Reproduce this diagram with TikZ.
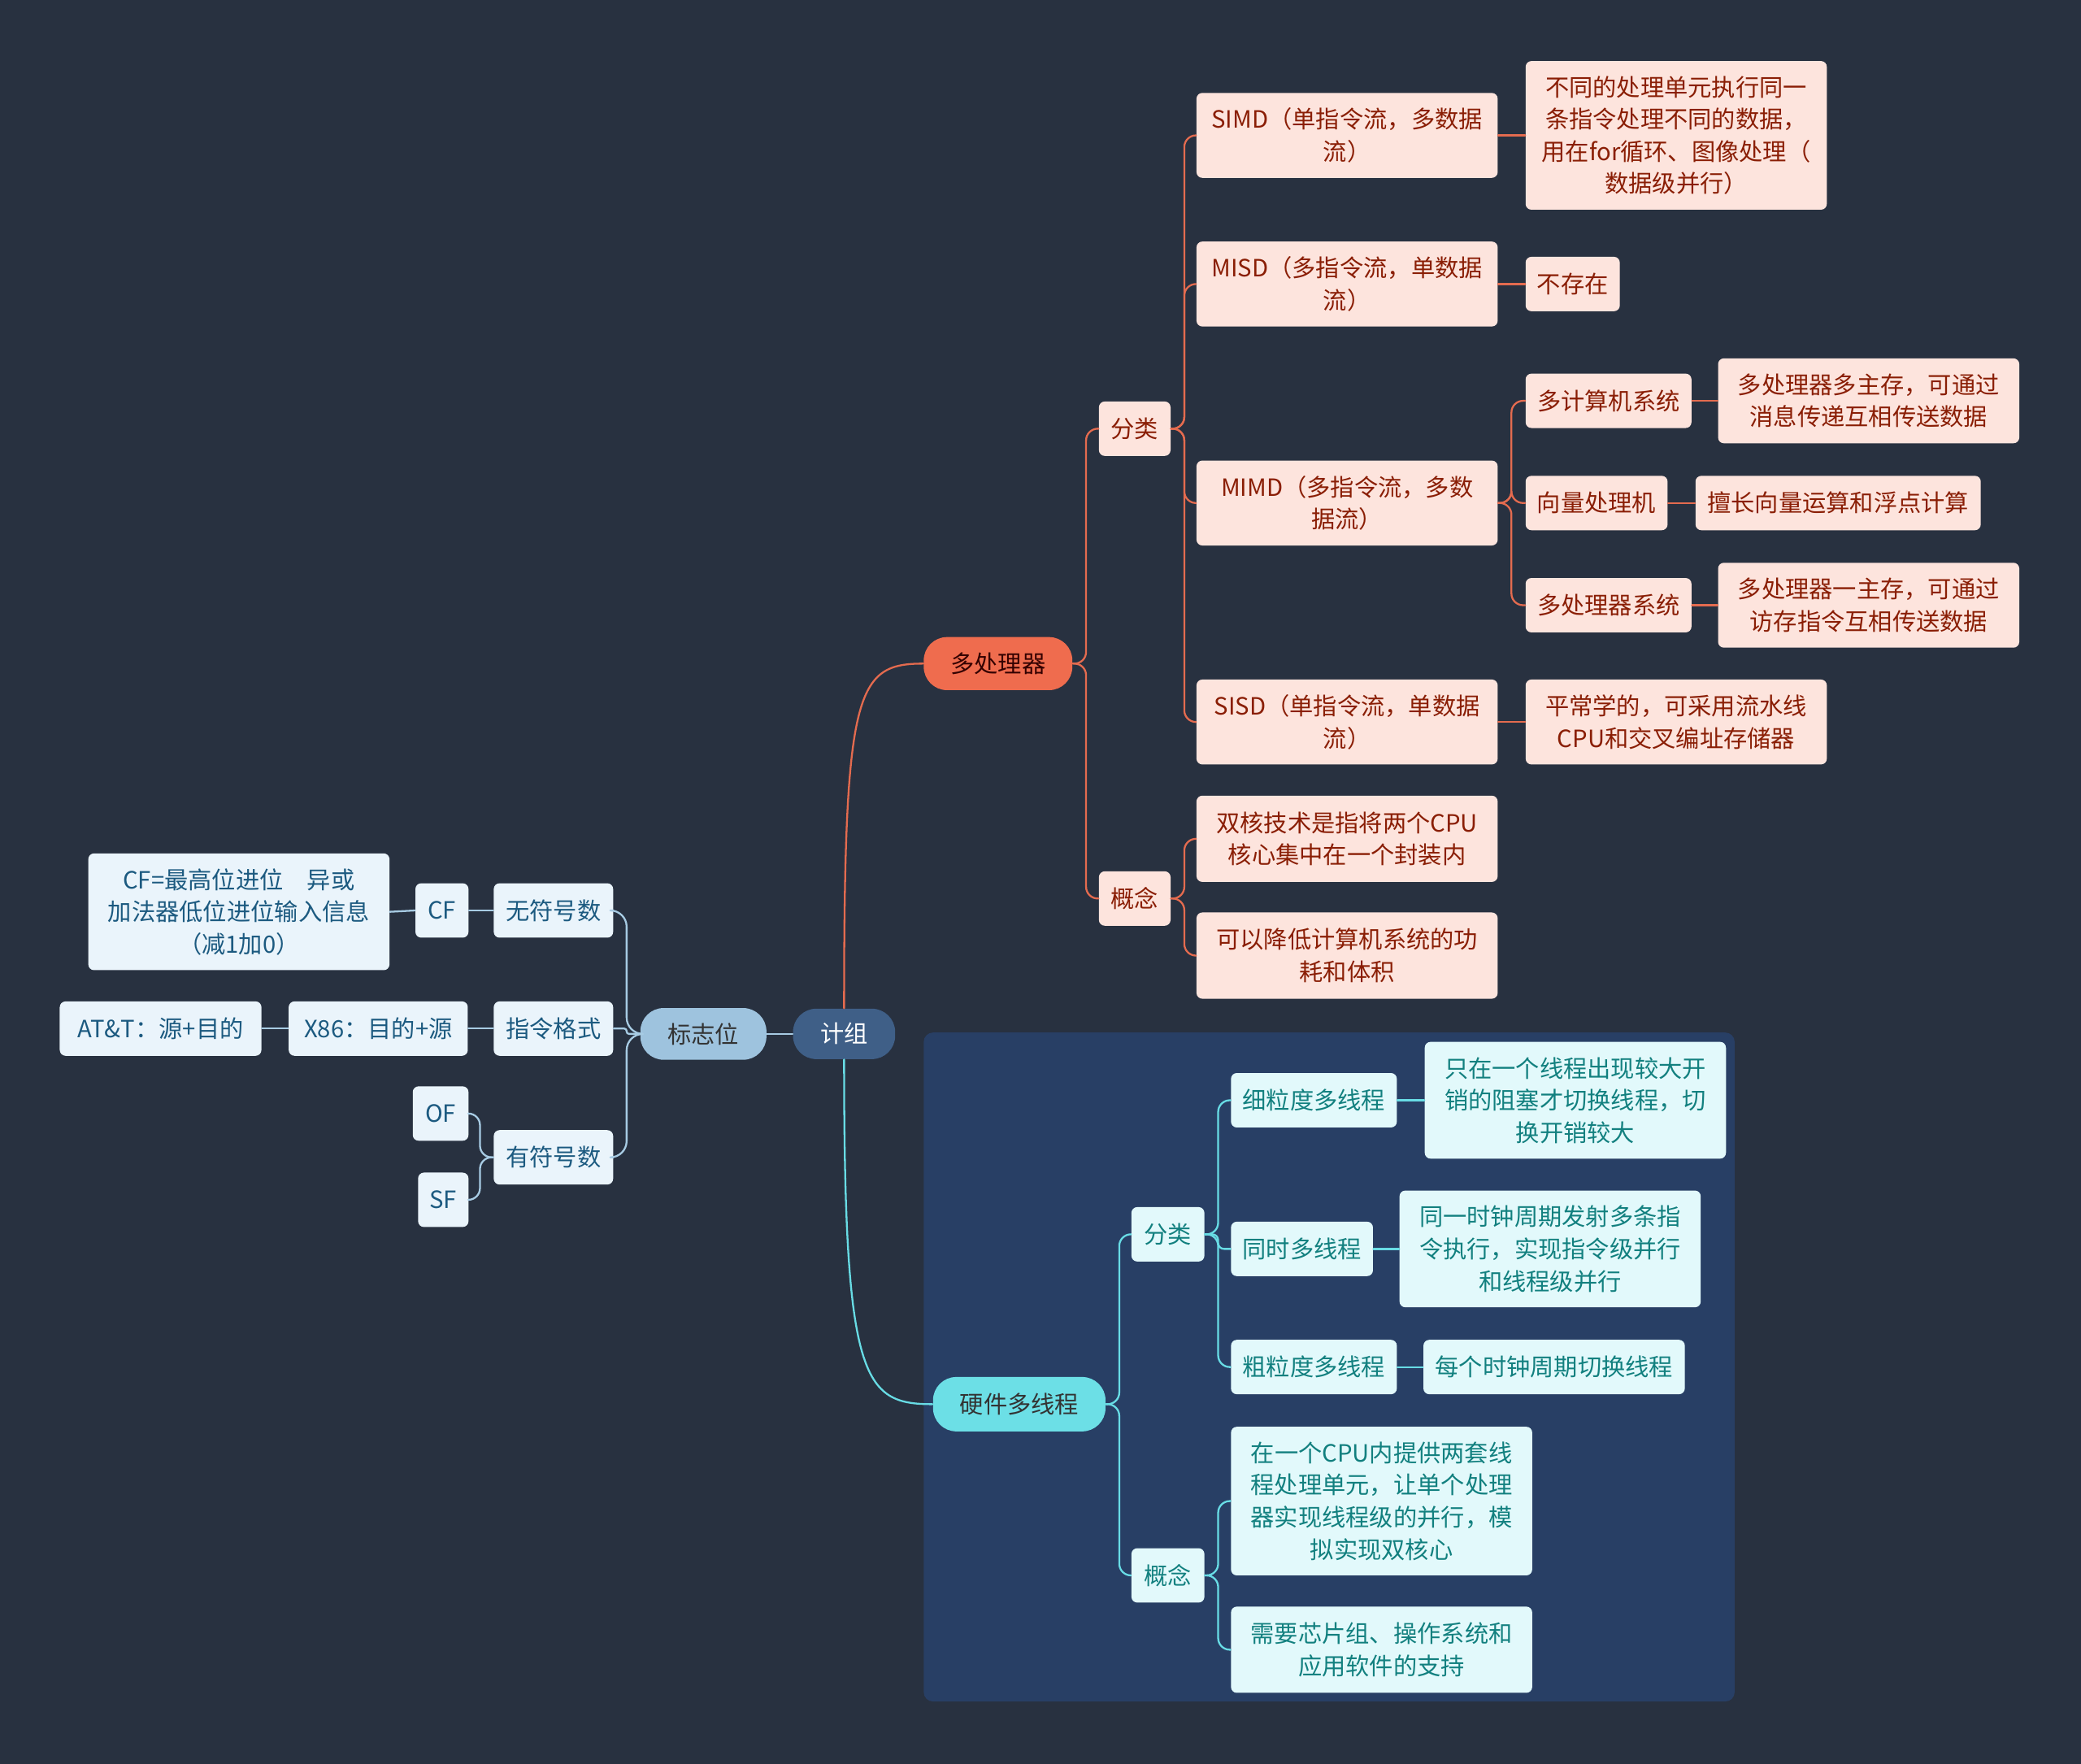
\documentclass[tikz,border=0pt]{standalone}
\usepackage{fontspec}
\setmainfont{Noto Sans CJK SC}
\definecolor{bgcol}{HTML}{283140}
\definecolor{grpcol}{HTML}{283F65}
\definecolor{rootcol}{HTML}{3F5F87}
\definecolor{mpcol}{HTML}{EF6C4E}
\definecolor{flagcol}{HTML}{9EC3DE}
\definecolor{hwcol}{HTML}{6CDFE6}
\definecolor{pinkfill}{HTML}{FDE4DD}
\definecolor{pinktext}{HTML}{8A1E05}
\definecolor{bluefill}{HTML}{EAF4FB}
\definecolor{bluetext}{HTML}{1C5A80}
\definecolor{cyanfill}{HTML}{E2F9FB}
\definecolor{cyantext}{HTML}{12807F}
\definecolor{oline}{HTML}{E46B4F}
\definecolor{bline}{HTML}{A7CBE3}
\definecolor{cline}{HTML}{68DCE5}
\usetikzlibrary{positioning}

\begin{document}
\begin{tikzpicture}[x=0.02cm,y=-0.02cm,line cap=round,line join=round,
  every node/.style={font=\fontsize{10.2}{13.8}\selectfont,align=center,inner sep=2pt},
  pill/.style={rounded corners=10pt,minimum height=0.8cm},
  pbox/.style={fill=pinkfill,text=pinktext,rounded corners=2.5pt,minimum height=0.82cm},
  lbox/.style={fill=bluefill,text=bluetext,rounded corners=2.5pt,minimum height=0.82cm},
  cbox/.style={fill=cyanfill,text=cyantext,rounded corners=2.5pt,minimum height=0.82cm},
  oconn/.style={draw=oline,line width=0.8pt,rounded corners=5pt},
  bconn/.style={draw=bline,line width=0.8pt,rounded corners=5pt},
  cconn/.style={draw=cline,line width=0.8pt,rounded corners=5pt}]
  \fill[bgcol] (0,0) rectangle (1568,1329);
  \fill[grpcol,rounded corners=4pt] (696,778) rectangle (1307,1282);

  % centre and main branches
  \node[pill,fill=rootcol,text=white,minimum width=1.54cm,minimum height=0.76cm] (root) at (636,779) {计组};
  \node[pill,fill=flagcol,text=black!80,minimum width=1.9cm,minimum height=0.78cm] (flags) at (530,779) {标志位};
  \node[pill,fill=mpcol,text=black!80!red,minimum width=2.24cm] (mproc) at (752,500) {多处理器};
  \node[pill,fill=hwcol,text=black!80,minimum width=2.6cm,minimum height=0.82cm] (hwmt) at (768,1058) {硬件多线程};

  % 多处理器
  \node[pbox,minimum width=1.08cm] (mpcls) at (855,323) {分类};
  \node[pbox,minimum width=1.08cm] (mpcon) at (855,677) {概念};
  \node[pbox,minimum width=4.54cm,minimum height=1.28cm] (simd) at (1015,102) {SIMD（单指令流，多数据\\流）};
  \node[pbox,minimum width=4.54cm,minimum height=1.28cm] (misd) at (1015,214) {MISD（多指令流，单数据\\流）};
  \node[pbox,minimum width=4.54cm,minimum height=1.28cm] (mimd) at (1015,379) {MIMD（多指令流，多数\\据流）};
  \node[pbox,minimum width=4.54cm,minimum height=1.28cm] (sisd) at (1015,544) {SISD（单指令流，单数据\\流）};
  \node[pbox,minimum width=4.54cm,minimum height=2.24cm] (simdtxt) at (1263,102) {不同的处理单元执行同一\\条指令处理不同的数据，\\用在for循环、图像处理（\\数据级并行）};
  \node[pbox,minimum width=1.42cm] (misdtxt) at (1185,214) {不存在};
  \node[pbox,minimum width=2.5cm] (mcs) at (1212,302) {多计算机系统};
  \node[pbox,minimum width=4.54cm,minimum height=1.28cm] (mcstxt) at (1408,302) {多处理器多主存，可通过\\消息传递互相传送数据};
  \node[pbox,minimum width=2.14cm] (vec) at (1203,379) {向量处理机};
  \node[pbox,minimum width=4.3cm] (vectxt) at (1385,379) {擅长向量运算和浮点计算};
  \node[pbox,minimum width=2.5cm] (mps) at (1212,456) {多处理器系统};
  \node[pbox,minimum width=4.54cm,minimum height=1.28cm] (mpstxt) at (1408,456) {多处理器一主存，可通过\\访存指令互相传送数据};
  \node[pbox,minimum width=4.54cm,minimum height=1.28cm] (sisdtxt) at (1263,544) {平常学的，可采用流水线\\CPU和交叉编址存储器};
  \node[pbox,minimum width=4.54cm,minimum height=1.3cm] (dual) at (1015,632) {双核技术是指将两个CPU\\核心集中在一个封装内};
  \node[pbox,minimum width=4.54cm,minimum height=1.3cm] (power) at (1015,720) {可以降低计算机系统的功\\耗和体积};

  % 标志位
  \node[lbox,minimum width=1.8cm] (unsig) at (417,686) {无符号数};
  \node[lbox,minimum width=1.8cm] (ifmt) at (417,775) {指令格式};
  \node[lbox,minimum width=1.8cm] (sig) at (417,872) {有符号数};
  \node[lbox,minimum width=0.8cm] (cf) at (333,686) {CF};
  \node[lbox,minimum width=4.54cm,minimum height=1.76cm] (cftxt) at (180,687) {CF=最高位进位\quad 异或\\加法器低位进位输入信息\\（减1加0）};
  \node[lbox,minimum width=2.7cm] (xes) at (285,775) {X86：目的+源};
  \node[lbox,minimum width=3.04cm] (att) at (121,775) {AT\&T：源+目的};
  \node[lbox,minimum width=0.84cm] (of) at (332,839) {OF};
  \node[lbox,minimum width=0.76cm] (sf) at (334,904) {SF};

  % 硬件多线程
  \node[cbox,minimum width=1.1cm] (hwcls) at (880,930) {分类};
  \node[cbox,minimum width=1.1cm] (hwcon) at (880,1187) {概念};
  \node[cbox,minimum width=2.5cm] (fine) at (990,829) {细粒度多线程};
  \node[cbox,minimum width=4.54cm,minimum height=1.76cm] (finetxt) at (1187,829) {只在一个线程出现较大开\\销的阻塞才切换线程，切\\换开销较大};
  \node[cbox,minimum width=2.14cm] (smt) at (981,941) {同时多线程};
  \node[cbox,minimum width=4.54cm,minimum height=1.76cm] (smttxt) at (1168,941) {同一时钟周期发射多条指\\令执行，实现指令级并行\\和线程级并行};
  \node[cbox,minimum width=2.5cm] (coarse) at (990,1030) {粗粒度多线程};
  \node[cbox,minimum width=3.94cm] (coarsetxt) at (1171,1030) {每个时钟周期切换线程};
  \node[cbox,minimum width=4.54cm,minimum height=2.24cm] (twoset) at (1041,1131) {在一个CPU内提供两套线\\程处理单元，让单个处理\\器实现线程级的并行，模\\拟实现双核心};
  \node[cbox,minimum width=4.54cm,minimum height=1.3cm] (needs) at (1041,1243) {需要芯片组、操作系统和\\应用软件的支持};

  % connectors
  \draw[oline,line width=0.8pt] (root.north) .. controls (636,520) and (645,500) .. (mproc.west);
  \draw[cline,line width=0.8pt] (root.south) .. controls (636,1040) and (650,1058) .. (hwmt.west);
  \draw[bline,line width=0.8pt] (root.west) -- (flags.east);

  \foreach \c in {mpcls,mpcon} \draw[oconn] (mproc.east) -- ++(10,0) |- (\c.west);
  \foreach \c in {simd,misd,mimd,sisd} \draw[oconn] (mpcls.east) -- ++(10,0) |- (\c.west);
  \foreach \c in {dual,power} \draw[oconn] (mpcon.east) -- ++(10,0) |- (\c.west);
  \foreach \c in {mcs,vec,mps} \draw[oconn] (mimd.east) -- ++(10,0) |- (\c.west);
  \draw[oconn] (simd.east) -- (simdtxt.west);
  \draw[oconn] (misd.east) -- (misdtxt.west);
  \draw[oconn] (sisd.east) -- (sisdtxt.west);
  \draw[oconn] (mcs.east) -- (mcstxt.west);
  \draw[oconn] (vec.east) -- (vectxt.west);
  \draw[oconn] (mps.east) -- (mpstxt.west);

  \foreach \c in {unsig,sig} \draw[bconn,rounded corners=7pt] (flags.west) -- ++(-10,0) |- (\c.east);
  \draw[bconn,rounded corners=1pt] (flags.west) -- ++(-10,0) |- (ifmt.east);
  \foreach \c in {of,sf} \draw[bconn] (sig.west) -- ++(-10,0) |- (\c.east);
  \draw[bconn] (unsig.west) -- (cf.east);
  \draw[bconn] (cf.west) -- (cftxt.east);
  \draw[bconn] (ifmt.west) -- (xes.east);
  \draw[bconn] (xes.west) -- (att.east);

  \foreach \c in {hwcls,hwcon} \draw[cconn] (hwmt.east) -- ++(10,0) |- (\c.west);
  \foreach \c in {fine,coarse} \draw[cconn] (hwcls.east) -- ++(10,0) |- (\c.west);
  \draw[cconn,rounded corners=2.5pt] (hwcls.east) -- ++(10,0) |- (smt.west);
  \foreach \c in {twoset,needs} \draw[cconn] (hwcon.east) -- ++(10,0) |- (\c.west);
  \draw[cconn] (fine.east) -- (finetxt.west);
  \draw[cconn] (smt.east) -- (smttxt.west);
  \draw[cconn] (coarse.east) -- (coarsetxt.west);
\end{tikzpicture}
\end{document}
